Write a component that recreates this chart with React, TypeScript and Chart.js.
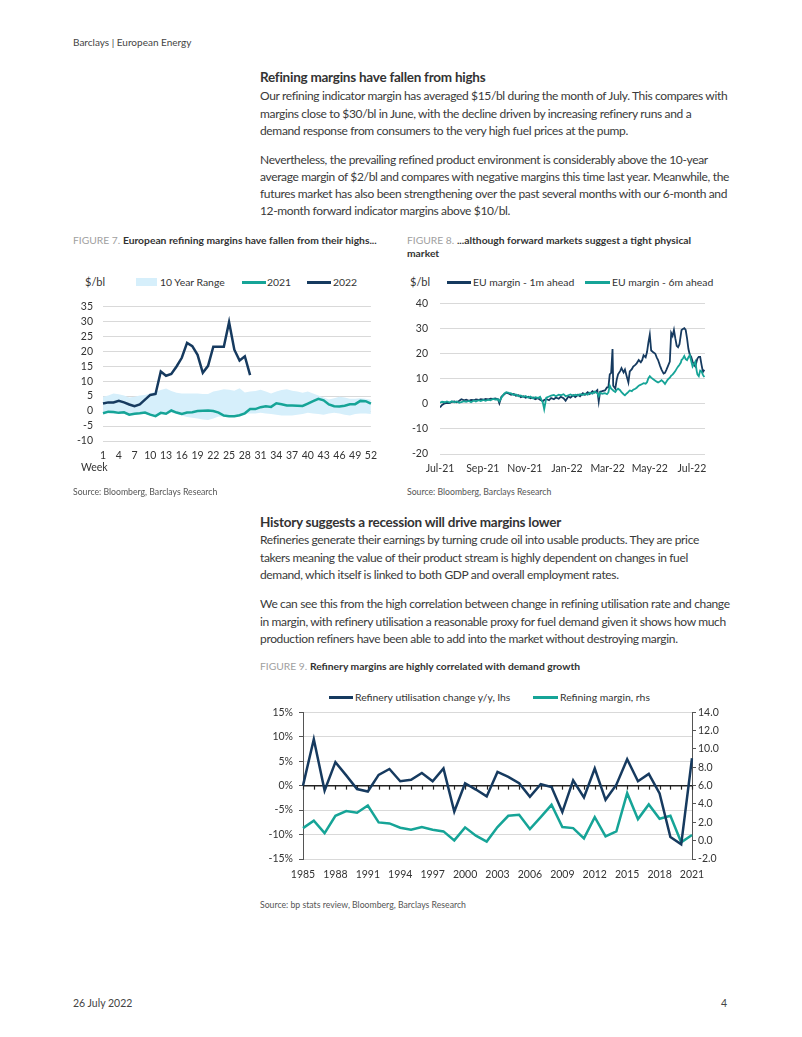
import React, { useEffect, useRef } from "react";
import { Chart, registerables } from "chart.js";
Chart.register(...registerables);

const NAVY = "#163a5f";
const TEAL = "#16a497";
const BAND = "#d6effb";
const GRID = "#d9d9d9";
const FONT = "Lato, 'Open Sans', sans-serif";
const TXT = "#333333";

// ---------- Figure 7 ----------
const weeks = [1,2,3,4,5,6,7,8,9,10,11,12,13,14,15,16,17,18,19,20,21,22,23,24,25,26,27,28,29,30,31,32,33,34,35,36,37,38,39,40,41,42,43,44,45,46,47,48,49,50,51,52];
const range10yLow = [-1.0,-0.8,-0.8,-1.0,-1.0,-1.5,-1.2,-1.0,-1.0,-1.5,-2.0,-1.0,-1.2,-0.5,-1.0,-1.5,-2.0,-2.2,-2.5,-2.8,-3.0,-2.5,-1.8,-1.8,-2.0,-2.0,-1.8,-1.0,-0.8,-0.8,-0.6,-0.8,-1.0,-1.2,-1.5,-1.5,-1.5,-1.2,-1.0,-0.6,-0.8,-1.0,-1.2,-0.8,-0.6,-0.8,-1.2,-1.5,-1.0,-0.8,-0.8,-1.0];
const range10yHigh = [4.8,5.2,5.9,5.6,5.2,4.5,4.8,5.2,5.4,5.9,6.5,7.0,7.5,6.7,6.1,5.9,5.9,5.9,5.9,5.7,5.7,6.5,6.9,7.3,7.1,6.8,7.6,6.2,6.5,6.7,7.1,6.5,5.9,6.5,7.0,7.3,6.8,6.5,6.1,6.5,5.9,5.2,4.5,3.9,4.3,4.8,4.5,4.1,4.1,4.3,4.1,3.8];
const margin2021 = [-0.75,-0.2,-0.3,-0.6,-0.4,-1.2,-0.9,-0.75,-0.5,-1.2,-1.7,-0.6,-0.9,0.2,-0.5,-1.0,-0.5,-0.4,0.0,0.1,0.2,0.0,-0.5,-1.5,-1.7,-1.7,-1.4,-0.75,0.65,0.65,1.3,1.6,1.4,2.6,2.3,1.9,1.9,1.8,1.7,2.5,3.3,4.1,3.6,2.2,1.6,1.5,1.8,2.3,2.3,3.4,3.3,2.5];
const margin2022 = [2.5,2.9,2.9,3.4,2.9,2.2,1.6,2.2,3.8,5.4,5.7,13.2,11.8,12.4,14.9,17.8,22.8,21.7,18.8,12.8,15.1,21.5,21.5,21.5,29.7,20.5,16.9,18.3,12.0];

// ---------- Figure 8 ----------
const fig8Dates = [
  "2021-07-01","2021-07-04","2021-07-08","2021-07-11","2021-07-15","2021-07-18","2021-07-22","2021-07-25","2021-07-29",
  "2021-08-01","2021-08-05","2021-08-08","2021-08-12","2021-08-15","2021-08-19","2021-08-22","2021-08-26","2021-08-29",
  "2021-09-02","2021-09-05","2021-09-09","2021-09-12","2021-09-16","2021-09-19","2021-09-23","2021-09-25","2021-09-28",
  "2021-10-02","2021-10-05","2021-10-09","2021-10-12","2021-10-16","2021-10-19","2021-10-23","2021-10-26","2021-10-30",
  "2021-11-02","2021-11-06","2021-11-09","2021-11-13","2021-11-16","2021-11-20","2021-11-23","2021-11-27","2021-11-29",
  "2021-12-02","2021-12-06","2021-12-09","2021-12-13","2021-12-16","2021-12-20","2021-12-23","2021-12-27","2021-12-30",
  "2022-01-03","2022-01-06","2022-01-10","2022-01-13","2022-01-17","2022-01-20","2022-01-24","2022-01-27","2022-01-31",
  "2022-02-03","2022-02-07","2022-02-10","2022-02-14","2022-02-16","2022-02-18","2022-02-21","2022-02-25","2022-02-28",
  "2022-03-02","2022-03-04","2022-03-06","2022-03-08","2022-03-09","2022-03-12","2022-03-14","2022-03-16","2022-03-19","2022-03-21","2022-03-24","2022-03-26","2022-03-29","2022-03-31",
  "2022-04-02","2022-04-05","2022-04-07","2022-04-10","2022-04-12","2022-04-15","2022-04-18","2022-04-20","2022-04-22","2022-04-25","2022-04-27","2022-04-29",
  "2022-05-01","2022-05-03","2022-05-06","2022-05-09","2022-05-11","2022-05-13","2022-05-16","2022-05-18","2022-05-21","2022-05-23","2022-05-25","2022-05-27","2022-05-30",
  "2022-06-01","2022-06-03","2022-06-05","2022-06-07","2022-06-09","2022-06-11","2022-06-13","2022-06-15","2022-06-16","2022-06-18","2022-06-20","2022-06-22","2022-06-24","2022-06-26","2022-06-28","2022-06-30",
  "2022-07-02","2022-07-04","2022-07-06","2022-07-08","2022-07-09","2022-07-11","2022-07-13","2022-07-15","2022-07-17","2022-07-19",
];
const euMargin1m = [
  -1.5,-0.5,0.2,0.4,0.3,0.8,0.9,0.6,1.2,
  1.8,1.4,1.6,1.2,1.5,1.4,1.7,1.5,1.8,
  1.6,1.9,1.7,2.0,1.9,2.1,1.8,0.2,2.8,
  3.8,4.4,4.0,3.6,3.9,3.2,3.4,2.6,3.0,
  2.4,2.8,2.2,2.5,1.8,2.2,1.6,1.0,1.5,
  1.9,1.4,2.3,1.8,2.5,2.0,2.8,2.2,1.2,
  2.9,2.4,3.4,2.7,3.6,3.0,4.2,3.6,4.6,
  3.9,5.0,4.4,5.4,0.9,4.8,5.0,5.3,6.5,
  6.6,11.7,12.3,21.8,7.2,6.0,9.5,11.7,13.0,14.2,12.5,13.6,10.5,8.5,
  12.9,13.8,14.8,15.5,16.1,17.4,16.5,17.4,19.3,18.5,20.6,24.4,
  27.5,21.2,20.5,19.9,18.5,17.4,15.0,13.6,12.0,12.3,13.5,14.8,16.8,
  28.2,27.0,29.4,26.0,23.1,22.5,23.7,27.5,29.4,29.8,30.1,29.4,26.0,21.8,19.5,18.7,
  16.8,15.5,14.8,17.0,18.0,18.7,18.7,15.5,12.7,13.5,
];
const euMargin6m = [
  0.4,0.8,0.6,0.9,0.5,1.0,0.6,0.9,0.4,
  0.7,1.0,0.8,1.1,0.6,1.3,0.9,1.4,1.1,
  1.5,1.2,1.6,1.4,1.9,1.7,1.8,1.0,2.4,
  4.0,4.6,4.3,4.1,3.5,3.7,3.0,3.3,2.7,
  3.1,2.4,2.9,2.1,2.6,2.3,2.8,0.5,-2.2,
  2.4,2.9,3.2,3.5,3.0,3.6,3.4,3.8,3.0,
  3.4,3.7,3.2,3.6,3.3,3.8,3.5,4.0,3.6,
  4.4,4.0,4.8,4.2,3.0,4.5,4.0,4.2,3.8,
  4.5,7.2,6.0,5.6,5.3,4.7,5.5,6.0,5.4,4.6,3.8,3.4,4.2,4.7,
  5.3,5.0,5.6,6.0,6.4,7.2,7.6,7.9,8.2,8.0,8.6,10.2,
  11.0,10.4,9.8,9.2,8.8,8.5,9.0,9.4,8.6,7.9,8.8,9.6,10.4,
  11.2,11.6,12.3,13.0,14.0,14.8,15.5,16.4,17.4,18.0,19.0,17.8,17.4,18.5,19.3,17.0,
  14.8,15.8,16.8,13.0,11.7,11.0,13.2,12.9,11.5,10.6,
];
const fig8Start = "2021-07-01";
const fig8End = "2022-07-20";
const fig8TickDates = ["2021-07-01","2021-09-01","2021-11-01","2022-01-01","2022-03-01","2022-05-01","2022-07-01"];
const fig8TickLabels = ["Jul-21","Sep-21","Nov-21","Jan-22","Mar-22","May-22","Jul-22"];

// ---------- Figure 9 ----------
const years = [1985,1986,1987,1988,1989,1990,1991,1992,1993,1994,1995,1996,1997,1998,1999,2000,2001,2002,2003,2004,2005,2006,2007,2008,2009,2010,2011,2012,2013,2014,2015,2016,2017,2018,2019,2020,2021];
const utilisationChange = [0.0,9.5,-1.0,4.8,2.1,-0.7,-1.2,2.2,3.4,0.9,1.2,2.6,0.9,3.5,-5.3,0.5,-0.8,-2.2,2.8,1.8,0.5,-2.3,0.3,-0.3,-5.4,1.1,-2.4,3.5,-2.9,0.2,5.4,0.9,2.4,-1.6,-10.5,-12.0,5.6];
const refiningMargin = [1.37,2.17,0.83,2.71,3.22,3.04,3.84,1.99,1.88,1.41,1.19,1.48,1.19,1.01,0.03,1.45,0.54,-0.1,1.48,2.71,2.82,1.26,2.57,3.91,1.48,1.37,0.25,2.57,0.47,1.01,5.18,2.35,3.95,2.39,2.71,-0.18,0.61];

const DAY = 86400000;
const dayOf = (d: string) => (Date.parse(d) - Date.parse(fig8Start)) / DAY;

Chart.defaults.font.family = FONT;
Chart.defaults.color = TXT;

function useChart(ref: any, make: () => any) {
  useEffect(() => {
    const c = new Chart(ref.current, make());
    return () => c.destroy();
  }, []);
}

const tickFont = { size: 10.5, family: FONT };

function Fig7() {
  const ref = useRef<HTMLCanvasElement>(null);
  useChart(ref, () => ({
    type: "line",
    data: {
      labels: weeks,
      datasets: [
        { label: "low", data: range10yLow, borderWidth: 0, pointRadius: 0, fill: false, order: 3 },
        { label: "10 Year Range", data: range10yHigh, borderWidth: 0, pointRadius: 0, fill: "-1", backgroundColor: BAND, order: 2 },
        { label: "2021", data: margin2021, borderColor: TEAL, borderWidth: 2.5, pointRadius: 0, tension: 0, order: 1 },
        { label: "2022", data: margin2022, borderColor: NAVY, borderWidth: 2.5, pointRadius: 0, tension: 0, order: 0 },
      ],
    },
    options: {
      animation: false, responsive: false, devicePixelRatio: 1,
      layout: { padding: { top: 12, right: 11, left: 0, bottom: 0 } },
      plugins: { legend: { display: false }, tooltip: { enabled: false } },
      scales: {
        x: {
          type: "category", offset: false,
          grid: { display: false, drawTicks: false }, border: { display: false },
          ticks: { autoSkip: false, maxRotation: 0, minRotation: 0, padding: 8, font: tickFont, color: TXT,
            callback: (_v: any, i: number) => (i % 3 === 0 ? String(weeks[i]) : "") },
          afterFit: (s: any) => { s.height = 29; },
        },
        y: {
          min: -10, max: 35,
          ticks: { stepSize: 5, autoSkip: false, padding: 10, font: tickFont, color: TXT },
          grid: { color: GRID, drawTicks: false, lineWidth: 1 },
          border: { display: false },
          afterFit: (s: any) => { s.width = 30; },
        },
      },
    },
  }));
  return <canvas ref={ref} width={312} height={180} style={{ position: "absolute", left: 73, top: 290, width: 312, height: 180 }} />;
}

function Fig8() {
  const ref = useRef<HTMLCanvasElement>(null);
  useChart(ref, () => ({
    type: "line",
    data: {
      datasets: [
        { label: "EU margin - 1m ahead", data: fig8Dates.map((d, i) => ({ x: dayOf(d), y: euMargin1m[i] })), borderColor: NAVY, borderWidth: 1.8, pointRadius: 0, order: 1 },
        { label: "EU margin - 6m ahead", data: fig8Dates.map((d, i) => ({ x: dayOf(d), y: euMargin6m[i] })), borderColor: TEAL, borderWidth: 1.8, pointRadius: 0, order: 0 },
      ],
    },
    options: {
      animation: false, responsive: false, devicePixelRatio: 1,
      layout: { padding: { top: 11, right: 10, left: 0, bottom: 0 } },
      plugins: { legend: { display: false }, tooltip: { enabled: false } },
      scales: {
        x: {
          type: "linear", min: 0, max: dayOf(fig8End),
          grid: { display: false, drawTicks: false }, border: { display: false },
          afterBuildTicks: (axis: any) => { axis.ticks = fig8TickDates.map((d) => ({ value: dayOf(d) })); },
          ticks: { autoSkip: false, maxRotation: 0, minRotation: 0, padding: 8, font: tickFont, color: TXT,
            callback: (_v: any, i: number) => fig8TickLabels[i] },
          afterFit: (s: any) => { s.height = 26; },
        },
        y: {
          min: -20, max: 40,
          ticks: { stepSize: 10, autoSkip: false, padding: 12, font: tickFont, color: TXT },
          grid: { color: GRID, drawTicks: false },
          border: { display: false },
          afterFit: (s: any) => { s.width = 40; },
        },
      },
    },
  }));
  return <canvas ref={ref} width={315} height={195} style={{ position: "absolute", left: 400, top: 285, width: 315, height: 195 }} />;
}

const zeroLine = {
  id: "zeroLine",
  beforeDatasetsDraw(chart: any) {
    const { ctx, chartArea, scales } = chart;
    const y0 = scales.y.getPixelForValue(0);
    ctx.save();
    ctx.strokeStyle = "#222";
    ctx.lineWidth = 1.5;
    ctx.beginPath();
    ctx.moveTo(chartArea.left, y0);
    ctx.lineTo(chartArea.right, y0);
    ctx.stroke();
    ctx.lineWidth = 1.2;
    for (let i = 0; i < years.length; i++) {
      const x = Math.round(scales.x.getPixelForValue(i)) + 0.5;
      ctx.beginPath();
      ctx.moveTo(x, y0);
      ctx.lineTo(x, y0 + 4);
      ctx.stroke();
    }
    ctx.restore();
  },
};

function Fig9() {
  const ref = useRef<HTMLCanvasElement>(null);
  useChart(ref, () => ({
    type: "line",
    data: {
      labels: years,
      datasets: [
        { label: "Refinery utilisation change y/y, lhs", data: utilisationChange, yAxisID: "y", borderColor: NAVY, borderWidth: 2.5, pointRadius: 0, order: 0 },
        { label: "Refining margin, rhs", data: refiningMargin, yAxisID: "y1", borderColor: TEAL, borderWidth: 2.5, pointRadius: 0, order: 1 },
      ],
    },
    plugins: [zeroLine],
    options: {
      animation: false, responsive: false, devicePixelRatio: 1,
      layout: { padding: { top: 12, right: 0, left: 0, bottom: 0 } },
      plugins: { legend: { display: false }, tooltip: { enabled: false } },
      scales: {
        x: {
          type: "category", offset: false,
          grid: { display: false, drawTicks: false }, border: { display: false },
          ticks: { autoSkip: false, maxRotation: 0, minRotation: 0, padding: 9, font: tickFont, color: TXT,
            callback: (_v: any, i: number) => (i % 3 === 0 ? String(years[i]) : "") },
          afterFit: (s: any) => { s.height = 26; },
        },
        y: {
          position: "left", min: -15, max: 15,
          ticks: { stepSize: 5, autoSkip: false, padding: 6, font: tickFont, color: TXT, callback: (v: any) => `${v}%` },
          grid: { color: GRID, tickColor: "#555", tickLength: 4 },
          border: { display: true, color: "#555", width: 1 },
          afterFit: (s: any) => { s.width = 48; },
        },
        y1: {
          position: "right", min: -2, max: 14,
          ticks: { stepSize: 2, autoSkip: false, padding: 2, font: tickFont, color: TXT, callback: (v: any) => Number(v).toFixed(1) },
          grid: { drawOnChartArea: false, color: "#555", tickColor: "#555", tickLength: 4 },
          border: { display: true, color: "#555", width: 1 },
          afterFit: (s: any) => { s.width = 43; },
        },
      },
    },
  }));
  return <canvas ref={ref} width={480} height={185} style={{ position: "absolute", left: 255, top: 700, width: 480, height: 185 }} />;
}

function T({ x, y, s, w = 400, c = TXT, ls = 0, right, children }: any) {
  const lh = Math.round(s * 1.3);
  const st: any = { position: "absolute", top: y - lh / 2, fontSize: s, lineHeight: `${lh}px`, fontWeight: w, color: c, whiteSpace: "nowrap", fontFamily: FONT, letterSpacing: ls };
  if (right !== undefined) st.right = right; else st.left = x;
  return <div style={st}>{children}</div>;
}

function Swatch({ x, y, w, h = 3, color }: any) {
  return <div style={{ position: "absolute", left: x, top: y - h / 2, width: w, height: h, background: color }} />;
}

const BODY = 12;
const BLS = -0.35;
const H = 13.5;
const HLS = -0.25;
const FIG = 10.3;
const LEG = 10.4;

function P({ y, children }: any) {
  return <T x={260} y={y} s={BODY} ls={BLS} c="#3a3a3a">{children}</T>;
}

function FigTitle({ x, y, n, children }: any) {
  return (
    <T x={x} y={y} s={FIG} w={700}>
      {n ? <span style={{ color: "#a0a0a0", fontWeight: 400 }}>{`FIGURE ${n}. `}</span> : null}
      {children}
    </T>
  );
}

export default function App() {
  useEffect(() => { document.body.style.margin = "0"; document.body.style.background = "#fff"; }, []);
  return (
    <div style={{ position: "absolute", left: 0, top: 0, width: 802, height: 1037, background: "#fff", overflow: "hidden", fontFamily: FONT }}>
      <T x={73} y={42} s={10} c="#444">Barclays | European Energy</T>

      <T x={260} y={77} s={H} w={700} ls={HLS} c="#333">Refining margins have fallen from highs</T>
      <P y={96}>Our refining indicator margin has averaged $15/bl during the month of July. This compares with</P>
      <P y={114}>margins close to $30/bl in June, with the decline driven by increasing refinery runs and a</P>
      <P y={131}>demand response from consumers to the very high fuel prices at the pump.</P>
      <P y={160}>Nevertheless, the prevailing refined product environment is considerably above the 10-year</P>
      <P y={177}>average margin of $2/bl and compares with negative margins this time last year. Meanwhile, the</P>
      <P y={194}>futures market has also been strengthening over the past several months with our 6-month and</P>
      <P y={211}>12-month forward indicator margins above $10/bl.</P>

      <FigTitle x={73} y={240} n={7}>European refining margins have fallen from their highs...</FigTitle>
      <FigTitle x={407} y={240} n={8}>...although forward markets suggest a tight physical</FigTitle>
      <FigTitle x={407} y={253}>market</FigTitle>

      {/* Figure 7 legend */}
      <T x={85} y={282} s={11}>$/bl</T>
      <Swatch x={136} y={282} w={21} h={8} color={BAND} />
      <T x={160} y={282} s={LEG}>10 Year Range</T>
      <Swatch x={242} y={282} w={24} color={TEAL} />
      <T x={267} y={282} s={LEG}>2021</T>
      <Swatch x={307} y={282} w={24} color={NAVY} />
      <T x={333} y={282} s={LEG}>2022</T>
      <Fig7 />
      <T x={81} y={467} s={10.5}>Week</T>

      {/* Figure 8 legend */}
      <T x={410} y={282} s={11}>$/bl</T>
      <Swatch x={447} y={282} w={24} color={NAVY} />
      <T x={473} y={282} s={LEG}>EU margin - 1m ahead</T>
      <Swatch x={585} y={282} w={25} color={TEAL} />
      <T x={612} y={282} s={LEG}>EU margin - 6m ahead</T>
      <Fig8 />

      <T x={73} y={491} s={8.7} c="#555">Source: Bloomberg, Barclays Research</T>
      <T x={407} y={491} s={8.7} c="#555">Source: Bloomberg, Barclays Research</T>

      <T x={260} y={522} s={H} w={700} ls={HLS} c="#333">History suggests a recession will drive margins lower</T>
      <P y={540}>Refineries generate their earnings by turning crude oil into usable products. They are price</P>
      <P y={558}>takers meaning the value of their product stream is highly dependent on changes in fuel</P>
      <P y={575}>demand, which itself is linked to both GDP and overall employment rates.</P>
      <P y={604}>We can see this from the high correlation between change in refining utilisation rate and change</P>
      <P y={622}>in margin, with refinery utilisation a reasonable proxy for fuel demand given it shows how much</P>
      <P y={639}>production refiners have been able to add into the market without destroying margin.</P>

      <FigTitle x={260} y={666} n={9}>Refinery margins are highly correlated with demand growth</FigTitle>

      {/* Figure 9 legend */}
      <Swatch x={329} y={697} w={24} color={NAVY} />
      <T x={355} y={697} s={LEG}>Refinery utilisation change y/y, lhs</T>
      <Swatch x={533} y={697} w={25} color={TEAL} />
      <T x={560} y={697} s={LEG}>Refining margin, rhs</T>
      <Fig9 />

      <T x={260} y={904} s={8.7} c="#555">Source: bp stats review, Bloomberg, Barclays Research</T>

      <T x={73} y={1003} s={10.5} c="#444">26 July 2022</T>
      <T right={75} y={1003} s={10.5} c="#444">4</T>
    </div>
  );
}
